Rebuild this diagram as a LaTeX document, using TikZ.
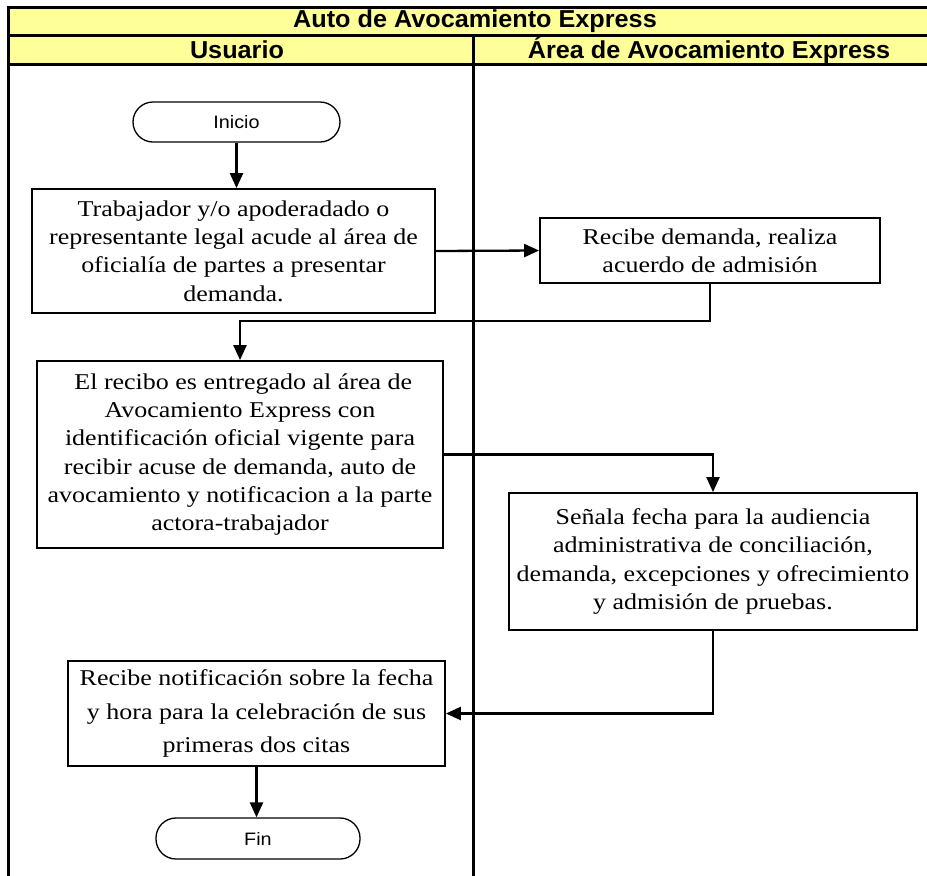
\documentclass[tikz,border=0pt]{standalone}
\usepackage{fontspec}
\setmainfont{Liberation Serif}[FakeStretch=1.15]
\newfontfamily\hdrfont{Liberation Sans}[FakeStretch=1.03]
\newfontfamily\termfont{Liberation Sans}[FakeStretch=1.1]
\usetikzlibrary{arrows.meta,calc}
\definecolor{hdryellow}{RGB}{255,255,153}
\tikzset{
  procbox/.style={draw=black, line width=1.8pt, fill=white, inner sep=0pt, align=center,
    font=\fontsize{22.6}{28.3}\selectfont},
  termnode/.style={draw=black, line width=1.3pt, rounded corners=20pt, inner sep=0pt,
    font=\termfont\fontsize{18}{18}\selectfont},
  conn/.style={line width=2.3pt, -{Triangle[length=15pt,width=13pt]}},
  hdrtext/.style={font=\hdrfont\bfseries\fontsize{24.5}{24.5}\selectfont, inner sep=0pt},
  frame/.style={line width=3pt}
}
\begin{document}
\begin{tikzpicture}[x=1pt,y=-1pt]
\useasboundingbox (0,0) rectangle (927,876);
% header
\fill[hdryellow] (8,7) rectangle (927,64);
\draw[frame] (6.5,7) -- (927,7);
\draw[frame] (8,35) -- (927,35);
\draw[frame] (8,64) -- (927,64);
\draw[frame] (8,5.5) -- (8,876);
\draw[frame] (473,35) -- (473,876);
\node[hdrtext] (title) at (475,21) {Auto de Avocamiento Express};
\node[hdrtext] (lane1) at (237,50) {Usuario};
\node[hdrtext] (lane2) at (709,50) {Área de Avocamiento Express};
% nodes
\node[termnode, minimum width=207pt, minimum height=40pt] (ini) at (236.5,122) {Inicio};
\node[procbox, minimum width=403pt, minimum height=124pt, text depth=-3pt] (b1) at (233.5,251)
  {Trabajador y/o apoderadado o\\representante legal acude al área de\\oficialía de partes a presentar\\demanda.};
\node[procbox, minimum width=340pt, minimum height=65pt] (b2) at (710,250.5)
  {Recibe demanda, realiza\\acuerdo de admisión};
\node[procbox, minimum width=406pt, minimum height=187pt] (b3) at (240,454.5)
  {\ El recibo es entregado al área de\\Avocamiento Express con\\identificación oficial vigente para\\recibir acuse de demanda, auto de\\avocamiento y notificacion a la parte\\actora-trabajador};
\node[procbox, minimum width=408pt, minimum height=137pt] (b4) at (713,561.5)
  {Señala fecha para la audiencia\\administrativa de conciliación,\\demanda, excepciones y ofrecimiento\\y admisión de pruebas.};
\node[procbox, minimum width=377pt, minimum height=105pt,
      font=\fontsize{22.6}{33.5}\selectfont] (b5) at (256.5,713.5)
  {Recibe notificación sobre la fecha\\y hora para la celebración de sus\\primeras dos citas};
\node[termnode, minimum width=204pt, minimum height=41pt] (fin) at (258,838.5) {Fin};
% connectors
\coordinate (k1) at (240,321);
\draw[conn] (ini.south) -- (ini.south |- b1.north);
\draw[conn] (b1.east) -- (b2.west);
\draw[conn] (b2.south) |- (k1) -- (b3.north);
\draw[conn] (b3.east) -| (b4.north);
\draw[conn] (b4.south) |- (b5.east);
\draw[conn] (b5.south) -- (b5.south |- fin.north);
\end{tikzpicture}
\end{document}
